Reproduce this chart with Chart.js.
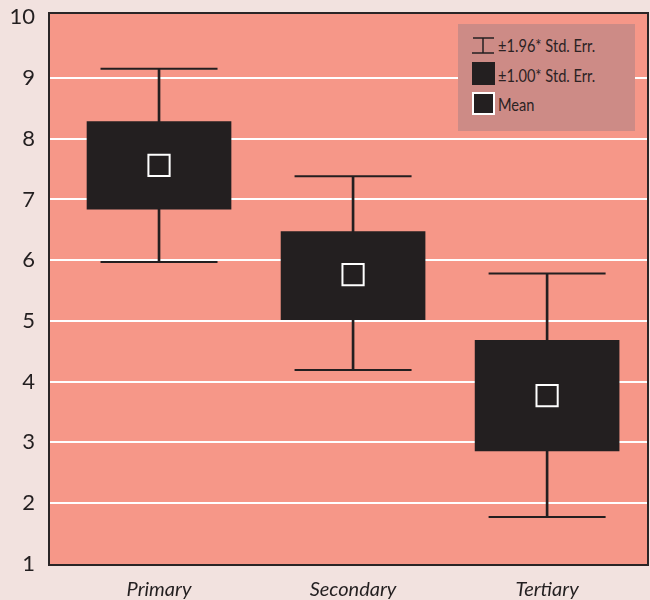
<!DOCTYPE html>
<html><head><meta charset="utf-8">
<script src="https://cdn.jsdelivr.net/npm/chart.js@4"></script>
<style>
html,body{margin:0;padding:0;background:#f2e2df;}
#wrap{position:relative;width:650px;height:600px;}
canvas{display:block;}
#legend{position:absolute;left:458px;top:24px;width:177px;height:107px;background:#cd8b86;font-family:Lato,sans-serif;font-size:17px;color:#2b2223;}
#legend .t{position:absolute;left:40px;line-height:20px;white-space:nowrap;transform:scaleX(0.86);transform-origin:0 50%;}
#legend .ico{position:absolute;left:14px;}
</style></head>
<body><div id="wrap"><canvas id="c" width="650" height="600"></canvas><div id="legend"></div></div>
<script>
const categories = ["Primary", "Secondary", "Tertiary"];
const meanValues = [7.56, 5.76, 3.77];
const seLow  = [6.84, 5.02, 2.86];
const seHigh = [8.28, 6.47, 4.68];
const ciLow  = [5.97, 4.19, 1.77];
const ciHigh = [9.15, 7.38, 5.78];
const yTicks = [1, 2, 3, 4, 5, 6, 7, 8, 9, 10];
const legendLabels = ["±1.96* Std. Err.", "±1.00* Std. Err.", "Mean"];

const DARK = "#231f20";
const PLOT_BG = "#f69788";
const FONT = 'Lato, sans-serif';

// HTML legend
(function(){
  const lg = document.getElementById('legend');
  const icons = [
    '<svg class="ico" style="top:13px" width="22" height="17"><line x1="1" y1="1" x2="22" y2="1" stroke="'+DARK+'" stroke-width="1.5"/><line x1="11" y1="1" x2="11" y2="16" stroke="'+DARK+'" stroke-width="1.5"/><line x1="0" y1="16" x2="22" y2="16" stroke="'+DARK+'" stroke-width="1.5"/></svg>',
    '<div class="ico" style="top:38px;width:23px;height:23px;background:'+DARK+'"></div>',
    '<div class="ico" style="top:68px;width:23px;height:23px;background:'+DARK+';border:2px solid #fff;box-sizing:border-box"></div>'
  ];
  const tops = [12, 42, 71];
  let html = '';
  legendLabels.forEach((l, i) => {
    html += icons[i] + '<div class="t" style="top:' + tops[i] + 'px">' + l + '</div>';
  });
  lg.innerHTML = html;
})();

const framePlugin = {
  id: 'frame',
  beforeDraw(chart) {
    const {ctx, chartArea: a} = chart;
    ctx.save();
    ctx.fillStyle = PLOT_BG;
    ctx.fillRect(a.left, a.top, a.right - a.left, a.bottom - a.top);
    ctx.restore();
  },
  afterDraw(chart) {
    const {ctx, chartArea: a} = chart;
    ctx.save();
    ctx.strokeStyle = "#2a2526";
    ctx.lineWidth = 2;
    ctx.strokeRect(a.left, a.top, a.right - a.left, a.bottom - a.top);
    ctx.restore();
  }
};

const pts = arr => arr.map((v, i) => ({x: i + 1, y: v}));
const ranges = (lo, hi) => lo.map((v, i) => ({x: i + 1, y: [v, hi[i]]}));

new Chart(document.getElementById('c'), {
  type: 'bar',
  data: {
    datasets: [
      {type: 'bar', data: ranges(ciLow, ciHigh), backgroundColor: DARK, barThickness: 2, grouped: false, order: 3, borderWidth: 0},
      {type: 'bar', data: ranges(seLow, seHigh), backgroundColor: DARK, barThickness: 144, grouped: false, order: 1, borderWidth: 0},
      {type: 'line', showLine: false, data: pts(ciHigh), pointStyle: 'line', pointRadius: 58.5, pointHoverRadius: 58.5, pointBorderColor: DARK, pointBorderWidth: 2, pointHoverBorderWidth: 2, order: 2},
      {type: 'line', showLine: false, data: pts(ciLow), pointStyle: 'line', pointRadius: 58.5, pointHoverRadius: 58.5, pointBorderColor: DARK, pointBorderWidth: 2, pointHoverBorderWidth: 2, order: 2},
      {type: 'line', showLine: false, data: pts(meanValues), pointStyle: 'rect', pointRadius: 15, pointHoverRadius: 15, pointBackgroundColor: DARK, pointBorderColor: '#ffffff', pointBorderWidth: 2, pointHoverBorderWidth: 2, order: 0}
    ]
  },
  options: {
    responsive: false,
    animation: false,
    events: [],
    layout: {autoPadding: false, padding: {left: 0, right: 2, top: 13, bottom: 0}},
    plugins: {legend: {display: false}, tooltip: {enabled: false}},
    scales: {
      x: {
        type: 'linear', min: 0.433, max: 3.52, offset: false,
        grid: {display: false},
        border: {display: false},
        afterBuildTicks: s => { s.ticks = categories.map((c, i) => ({value: i + 1})); },
        afterFit: s => { s.height = 35; s.paddingLeft = 0; s.paddingRight = 0; },
        ticks: {
          autoSkip: false, maxRotation: 0, padding: 5,
          color: DARK,
          font: {family: FONT, size: 20, style: 'italic'},
          callback: v => categories[v - 1]
        }
      },
      y: {
        min: 0.98, max: 10.07,
        grid: {
          drawTicks: false, lineWidth: 2,
          color: c => (c.tick && (c.tick.value === 1 || c.tick.value === 10)) ? 'rgba(0,0,0,0)' : '#ffffff'
        },
        border: {display: false},
        afterBuildTicks: s => { s.ticks = yTicks.map(v => ({value: v})); },
        afterFit: s => { s.width = 49; s.paddingTop = 0; s.paddingBottom = 0; },
        ticks: {
          padding: 14, color: DARK,
          font: {family: FONT, size: 22},
          callback: v => String(v)
        }
      }
    }
  },
  plugins: [framePlugin]
});
</script>
</body></html>
